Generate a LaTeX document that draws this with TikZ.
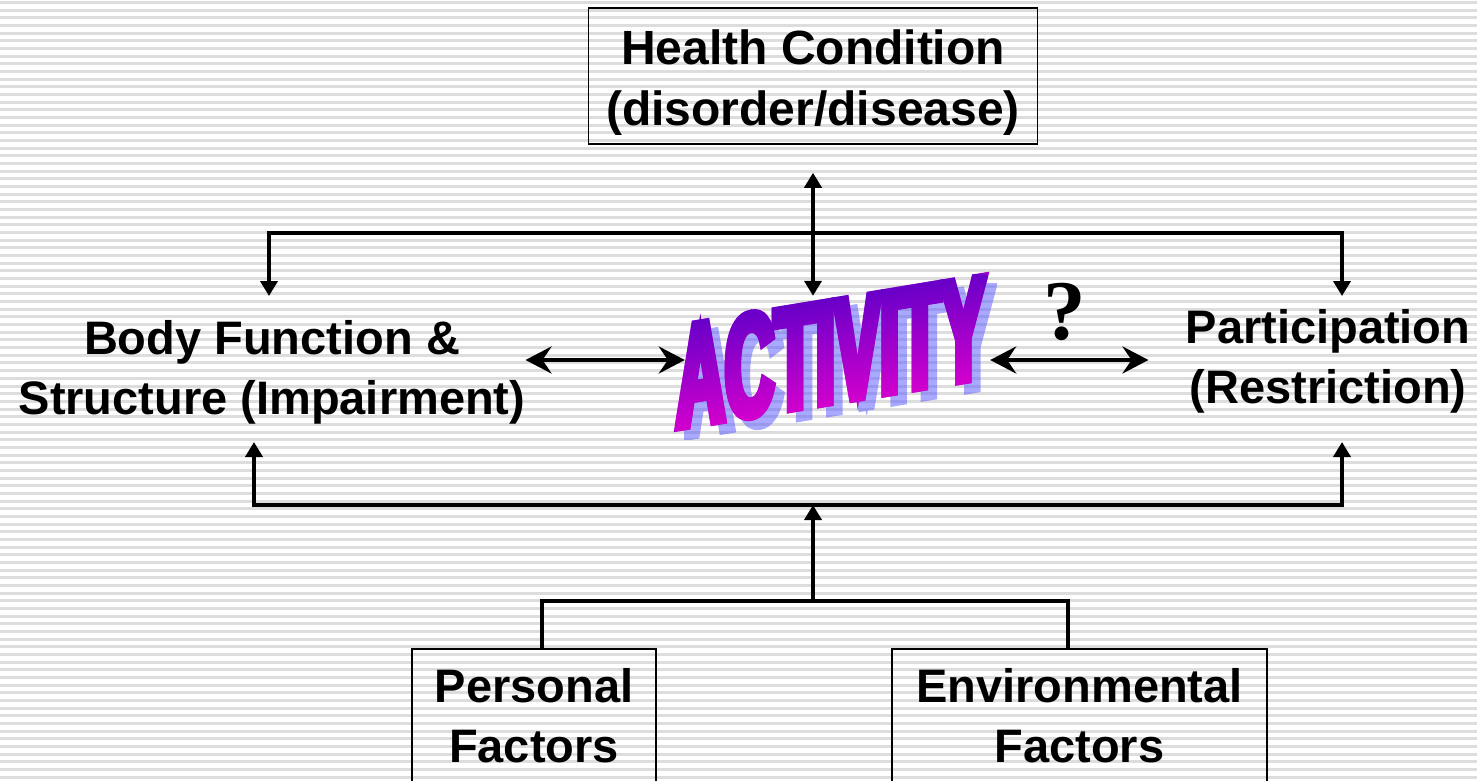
\documentclass[tikz,border=0pt]{standalone}
\usepackage{fontspec}
\setmainfont{Liberation Sans}
\newfontfamily\qmarkfont{Liberation Serif}
\newfontfamily\actfont[FakeStretch=0.46,FakeBold=4.5]{Liberation Sans Bold}
\usetikzlibrary{arrows.meta,positioning,fadings}
\definecolor{stripegray}{RGB}{221,221,221}
\definecolor{actTop}{RGB}{100,0,200}
\definecolor{actMid}{RGB}{158,0,202}
\definecolor{actBot}{RGB}{215,0,205}
\definecolor{actShade}{RGB}{85,85,255}

% word art mask for the gradient letters and their shadow
\begin{tikzfadingfrompicture}[name=actfade]
  \node[inner sep=0pt,text=transparent!0,font=\actfont\fontsize{148}{148}\selectfont] {ACTIVITY};
\end{tikzfadingfrompicture}

\begin{document}
\begin{tikzpicture}[x=1pt,y=-1pt,
boxed/.style={rectangle,draw,line width=1.5pt,inner sep=0pt,align=center,font=\bfseries\fontsize{47}{60}\selectfont},
freetext/.style={inner sep=0pt,align=center,font=\bfseries\fontsize{47}{60}\selectfont},
link/.style={line width=4.5pt},
uptip/.style={-{Triangle[length=15pt,width=17pt]}},
twotips/.style={{Triangle[length=15pt,width=17pt]}-{Triangle[length=15pt,width=17pt]}},
bidir/.style={line width=4pt,{Stealth[length=26pt,width=27pt,inset=9pt]}-{Stealth[length=26pt,width=27pt,inset=9pt]}},
wordart/.style={inner sep=0pt,font=\actfont\fontsize{148}{148}\selectfont}]
% striped slide background
\useasboundingbox (0,0) rectangle (1477,781);
\fill[white] (0,0) rectangle (1477,781);
\foreach \i in {0,...,101}
  \fill[stripegray] (0,1+7.67*\i) rectangle (1477,4+7.67*\i);

\node[boxed,minimum width=449pt,minimum height=136pt,font=\bfseries\fontsize{48}{61}\selectfont] (health) at (813,76) {\rule{0pt}{47pt}Health Condition\\(disorder/disease)};
\node[freetext] (body) at (272,372) {Body Function \&\\Structure (Impairment)};
\node[freetext] (part) at (1328,361) {Participation\\(Restriction)};
\node[boxed,minimum width=244pt,minimum height=134pt] (pers) at (534,716) {Personal\\Factors};
\node[boxed,minimum width=375pt,minimum height=134pt] (env) at (1079.5,716) {Environmental\\Factors};
\node[minimum width=305pt,minimum height=128pt] (act) at (837.5,360) {};
\node[inner sep=0pt,font=\qmarkfont\bfseries\fontsize{85}{85}\selectfont] (qm) at (1065,312) {?};

% ACTIVITY: shadow, letters, gradient over the letters
\begin{scope}[transform canvas={shift={(840,361)},yslant=0.165}]
  \fill[actShade,fill opacity=0.5,path fading=actfade,fit fading=false] (-175,-58) rectangle (175,58);
\end{scope}
\begin{scope}[transform canvas={shift={(831,352)},yslant=0.165}]
  \node[wordart,text=actMid] (word) {ACTIVITY};
  \shade[path fading=actfade,fit fading=false,top color=actTop,bottom color=actBot] (-175,-58) rectangle (175,58);
\end{scope}

\coordinate (top) at (813,233);
\coordinate (base) at (813,505);
\coordinate (fork) at (813,601);
\coordinate (bodyin) at (269,296);
\coordinate (bodyup) at (254,442);
\coordinate (partin) at (1342,296);
\coordinate (partup) at (1342,442);

\draw[link,twotips] (bodyin) |- (top) -| (partin);
\draw[link,twotips] (bodyup) |- (base) -| (partup);
\draw[link,twotips] ([yshift=-28pt]health.south) -- (health.south |- act.north);
\draw[link,uptip] (fork) -- (base);
\draw[link] ([xshift=8pt]pers.north) |- (fork) -| ([xshift=-11.5pt]env.north);
\draw[bidir] (body.east |- act.west) -- (act.west);
\draw[bidir] (act.east) -- ([xshift=-37pt]part.west |- act.east);
\end{tikzpicture}
\end{document}
